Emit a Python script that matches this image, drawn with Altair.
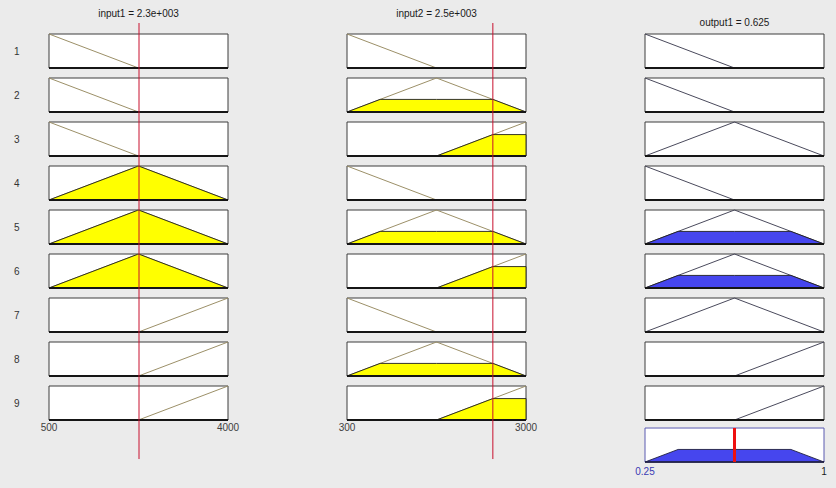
import altair as alt
import numpy as np
import pandas as pd

# ---------------- data ----------------
rules = [1, 2, 3, 4, 5, 6, 7, 8, 9]

in1_range = [500, 4000]
in1_breaks = [500, 2250, 4000]
in1_value = 2260
in1_title = "input1 = 2.3e+003"
in1_ticks = ["500", "4000"]

in2_range = [300, 3000]
in2_breaks = [300, 1650, 3000]
in2_value = 2500
in2_title = "input2 = 2.5e+003"
in2_ticks = ["300", "3000"]

out_range = [0.25, 1.0]
out_breaks = [0.25, 0.625, 1.0]
out_value = 0.625
out_title = "output1 = 0.625"
out_ticks = ["0.25", "1"]

# membership heights at the three break points
mf_heights = {"low": [1, 0, 0], "mid": [0, 1, 0], "high": [0, 0, 1]}

rule_in1 = ["low", "low", "low", "mid", "mid", "mid", "high", "high", "high"]
rule_in2 = ["low", "mid", "high", "low", "mid", "high", "low", "mid", "high"]
rule_out = ["low", "low", "mid", "low", "mid", "mid", "mid", "high", "high"]

fire_in1 = [0, 0, 0, 0.99, 0.99, 0.99, 0.01, 0.01, 0.01]
fire_in2 = [0, 0.37, 0.63, 0, 0.37, 0.63, 0, 0.37, 0.63]
fire_out = [0, 0, 0, 0, 0.37, 0.37, 0, 0.01, 0.01]

# ---------------- layout (row units: 1 unit = one row pitch) ----------------
H = 34 / 44                      # panel height in row units
Y_DOMAIN = [-34 / 44, 454 / 44]  # whole column height
AGG_SLOT = 8.955                 # aggregate panel position (output column)
RED_TOP, RED_BOT = -0.25, 9.66
IN_TITLE_Y, OUT_TITLE_Y = -0.455, -0.24
IN_TICK_Y, OUT_TICK_Y = 8.95, 9.955

FONT = "Liberation Sans"
BG = "#EBEBEB"


def clip(xs, mus, level):
    pts = []
    for i in range(len(xs)):
        if i > 0:
            x0, m0, x1, m1 = xs[i - 1], mus[i - 1], xs[i], mus[i]
            if (m0 - level) * (m1 - level) < 0:
                t = (level - m0) / (m1 - m0)
                pts.append((x0 + t * (x1 - x0), level))
        pts.append((xs[i], min(mus[i], level)))
    return pts


def pw_max(funcs):
    xs = sorted(set(p[0] for f in funcs for p in f))
    ev = lambda f, x: float(np.interp(x, [p[0] for p in f], [p[1] for p in f]))
    cand = set(xs)
    for a, b in zip(xs[:-1], xs[1:]):
        for i in range(len(funcs)):
            for j in range(i + 1, len(funcs)):
                da = ev(funcs[i], a) - ev(funcs[j], a)
                db = ev(funcs[i], b) - ev(funcs[j], b)
                if da * db < 0:
                    cand.add(a + (b - a) * da / (da - db))
    cand = sorted(cand)
    return [(x, max(ev(f, x) for f in funcs)) for x in cand]


def build_column(rng, breaks, rule_mfs, fires, value, title, ticks, tick_colors,
                 line_color, fill_color, is_output, show_axis):
    xs = alt.Scale(domain=rng, nice=False, zero=False)
    ys = alt.Scale(domain=Y_DOMAIN, reverse=True, nice=False, zero=False)
    if show_axis:
        yaxis = alt.Axis(values=[s + H / 2 for s in range(9)],
                         labelExpr="floor(datum.value) + 1", ticks=False,
                         tickSize=0, domain=False, grid=False, labelPadding=30,
                         labelFont=FONT, labelFontSize=10, labelColor="#333333",
                         title="", minExtent=0)
    else:
        yaxis = None

    def X(f):
        return alt.X(f, type="quantitative", scale=xs, axis=None)

    def Y(f):
        return alt.Y(f, type="quantitative", scale=ys, axis=yaxis)

    panels = pd.DataFrame({"rule": rules, "x": rng[0], "x2": rng[1],
                           "top": [r - 1 for r in rules],
                           "bot": [r - 1 + H for r in rules]})

    mf_rows, fill_rows = [], []
    for r, mf, lv in zip(rules, rule_mfs, fires):
        s = r - 1
        for k, (x, mu) in enumerate(zip(breaks, mf_heights[mf])):
            mf_rows.append({"rule": r, "k": k, "x": x, "y": s + H * (1 - mu)})
        if lv > 0:
            for x, m in clip(breaks, mf_heights[mf], lv):
                fill_rows.append({"rule": r, "x": x, "y": s + H * (1 - m), "y2": s + H})
    mfdf = pd.DataFrame(mf_rows)
    filldf = pd.DataFrame(fill_rows)

    layers = [
        alt.Chart(panels).mark_rect(fill="white", stroke="#3c3c3c", strokeWidth=1)
        .encode(x=X("x"), x2=alt.X2("x2"), y=Y("top"), y2=alt.Y2("bot")),
        alt.Chart(mfdf).mark_line(color=line_color, strokeWidth=1)
        .encode(x=X("x"), y=Y("y"), detail="rule:N", order="k:Q"),
        alt.Chart(filldf).mark_area(fill=fill_color, fillOpacity=1, stroke="#1e1e1e",
                                    strokeWidth=0.9)
        .encode(x=X("x"), y=Y("y"), y2=alt.Y2("y2"), detail="rule:N"),
        alt.Chart(panels).mark_rule(color="#151515", strokeWidth=2)
        .encode(x=X("x"), x2=alt.X2("x2"), y=Y("bot")),
    ]

    if is_output:
        funcs = [clip(breaks, mf_heights[mf], lv) for mf, lv in zip(rule_mfs, fires)]
        agg = pw_max(funcs)
        aggdf = pd.DataFrame({"x": [p[0] for p in agg],
                              "y": [AGG_SLOT + H * (1 - p[1]) for p in agg],
                              "y2": AGG_SLOT + H})
        aggpanel = pd.DataFrame({"x": [rng[0]], "x2": [rng[1]],
                                 "top": [AGG_SLOT], "bot": [AGG_SLOT + H]})
        redagg = pd.DataFrame({"x": [value], "y": [AGG_SLOT], "y2": [AGG_SLOT + H]})
        layers += [
            alt.Chart(aggpanel).mark_rect(fill="white", stroke="#5a5ab0", strokeWidth=1)
            .encode(x=X("x"), x2=alt.X2("x2"), y=Y("top"), y2=alt.Y2("bot")),
            alt.Chart(aggdf).mark_area(fill=fill_color, fillOpacity=1, stroke="#1e1e40",
                                       strokeWidth=0.9)
            .encode(x=X("x"), y=Y("y"), y2=alt.Y2("y2")),
            alt.Chart(aggpanel).mark_rule(color="#202040", strokeWidth=1.5)
            .encode(x=X("x"), x2=alt.X2("x2"), y=Y("bot")),
            alt.Chart(redagg).mark_rule(color="#EE1010", strokeWidth=3)
            .encode(x=X("x"), y=Y("y"), y2=alt.Y2("y2")),
        ]
        title_y, tick_y = OUT_TITLE_Y, OUT_TICK_Y
    else:
        red = pd.DataFrame({"x": [value], "y": [RED_TOP], "y2": [RED_BOT]})
        layers.append(
            alt.Chart(red).mark_rule(color="#C8102E", strokeWidth=1)
            .encode(x=X("x"), y=Y("y"), y2=alt.Y2("y2")))
        title_y, tick_y = IN_TITLE_Y, IN_TICK_Y

    tdf = pd.DataFrame({"x": [(rng[0] + rng[1]) / 2], "y": [title_y], "text": [title]})
    kdf = pd.DataFrame({"x": rng, "y": tick_y, "text": ticks, "color": tick_colors})
    layers += [
        alt.Chart(tdf).mark_text(font=FONT, fontSize=10, color="#1a1a1a")
        .encode(x=X("x"), y=Y("y"), text="text:N"),
        alt.Chart(kdf).mark_text(font=FONT, fontSize=10)
        .encode(x=X("x"), y=Y("y"), text="text:N", color=alt.Color("color:N", scale=None)),
    ]
    return alt.layer(*layers).properties(width=179, height=488)


IN_LINE = "#9c9068"
OUT_LINE = "#4a4a5c"
col1 = build_column(in1_range, in1_breaks, rule_in1, fire_in1, in1_value, in1_title,
                    in1_ticks, ["#404040", "#404040"], IN_LINE, "#FFFF00", False, True)
col2 = build_column(in2_range, in2_breaks, rule_in2, fire_in2, in2_value, in2_title,
                    in2_ticks, ["#404040", "#404040"], IN_LINE, "#FFFF00", False, False)
col3 = build_column(out_range, out_breaks, rule_out, fire_out, out_value, out_title,
                    out_ticks, ["#3a3ab4", "#1a1a1a"], OUT_LINE, "#4646EE", True, False)

chart = (
    alt.hconcat(col1, col2, col3, spacing=119, bounds="flush")
    .resolve_scale(x="independent", y="independent")
    .properties(background=BG, padding={"left": 13, "right": 9, "top": 0, "bottom": 0})
    .configure_view(strokeWidth=0)
)

chart.save("out.html", embed_options={"renderer": "svg", "actions": False})
